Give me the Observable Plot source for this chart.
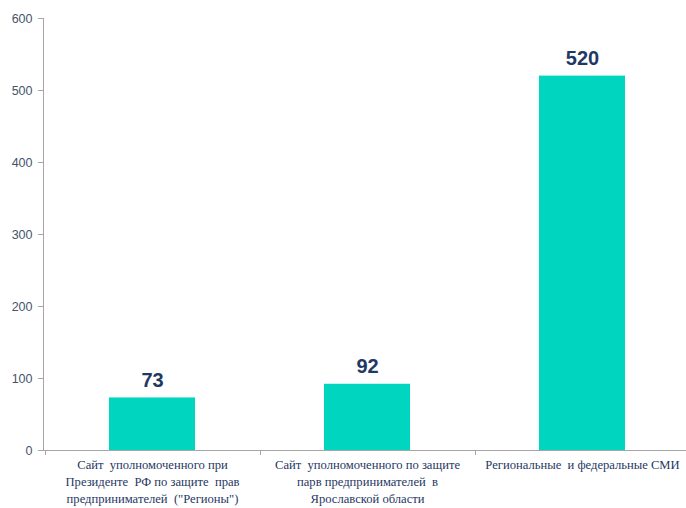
<!DOCTYPE html>
<html>
<head>
<meta charset="utf-8">
<script src="https://cdn.jsdelivr.net/npm/d3@7"></script>
<script src="https://cdn.jsdelivr.net/npm/@observablehq/plot@0.6"></script>
<style>
  html, body { margin: 0; padding: 0; background: #fff; }
  #chart { width: 686px; height: 508px; }
</style>
</head>
<body>
<div id="chart"></div>
<script>
const categories = [
  "Сайт уполномоченного при Президенте РФ по защите прав предпринимателей (\"Регионы\")",
  "Сайт уполномоченного по защите парв предпринимателей в Ярославской области",
  "Региональные и федеральные СМИ"
];
const categoryLabels = [
  "Сайт  уполномоченного при\nПрезиденте  РФ по защите  прав\nпредпринимателей  (\"Регионы\")",
  "Сайт  уполномоченного по защите\nпарв предпринимателей  в\nЯрославской области",
  "Региональные  и федеральные СМИ"
];
const values = [73, 92, 520];
const yTicks = [0, 100, 200, 300, 400, 500, 600];

const data = categories.map((c, i) => ({category: c, label: categoryLabels[i], value: values[i]}));

const chart = Plot.plot({
  width: 686,
  height: 508,
  marginTop: 18,
  marginBottom: 58,
  marginLeft: 43,
  marginRight: 0,
  style: {background: "#fff", overflow: "visible"},
  x: {domain: categories, range: [43, 690], paddingInner: 0.6, paddingOuter: 0.3, axis: null},
  y: {domain: [0, 600], axis: null},
  marks: [
    Plot.barY(data, {x: "category", y: "value", fill: "#00D5C0"}),
    Plot.axisY({ticks: yTicks, tickSize: 5, tickPadding: 6, stroke: "#a6a6a6", fill: "#44546A",
      fontSize: 12.5, fontFamily: "Liberation Sans, Arial, sans-serif", label: null}),
    Plot.text(data, {x: "category", y: "value", text: d => String(d.value), lineAnchor: "bottom", dy: -11,
      fontSize: 20, fontWeight: "bold", fill: "#1F3864", fontFamily: "Liberation Sans, Arial, sans-serif"}),
    Plot.text(data, {x: "category", y: 0, text: "label", lineAnchor: "top", dy: 7, lineHeight: 1.34,
      fontSize: 12.6, fill: "#1F3864", fontFamily: "Liberation Serif, Times New Roman, serif"})
  ]
});

document.getElementById("chart").appendChild(chart);

// axis lines and category separator ticks
const sx = chart.scale("x");
const sy = chart.scale("y");
const svg = d3.select(chart);
const y0 = sy.apply(0);
const y600 = sy.apply(600);
const outer = (sx.step - sx.bandwidth) / 2;
const bounds = categories.map(c => sx.apply(c) - outer);
bounds.push(sx.apply(categories[categories.length - 1]) + sx.bandwidth + outer);
const g = svg.append("g").attr("stroke", "#a6a6a6").attr("stroke-width", 1);
g.append("line").attr("x1", 43.5).attr("x2", 43.5).attr("y1", y600).attr("y2", y0);
g.append("line").attr("x1", 43).attr("x2", 686).attr("y1", y0 + 0.5).attr("y2", y0 + 0.5);
bounds.forEach(b => {
  const xb = Math.round(b) + 0.5;
  g.append("line").attr("x1", xb).attr("x2", xb).attr("y1", y0).attr("y2", y0 + 5);
});
</script>
</body>
</html>
